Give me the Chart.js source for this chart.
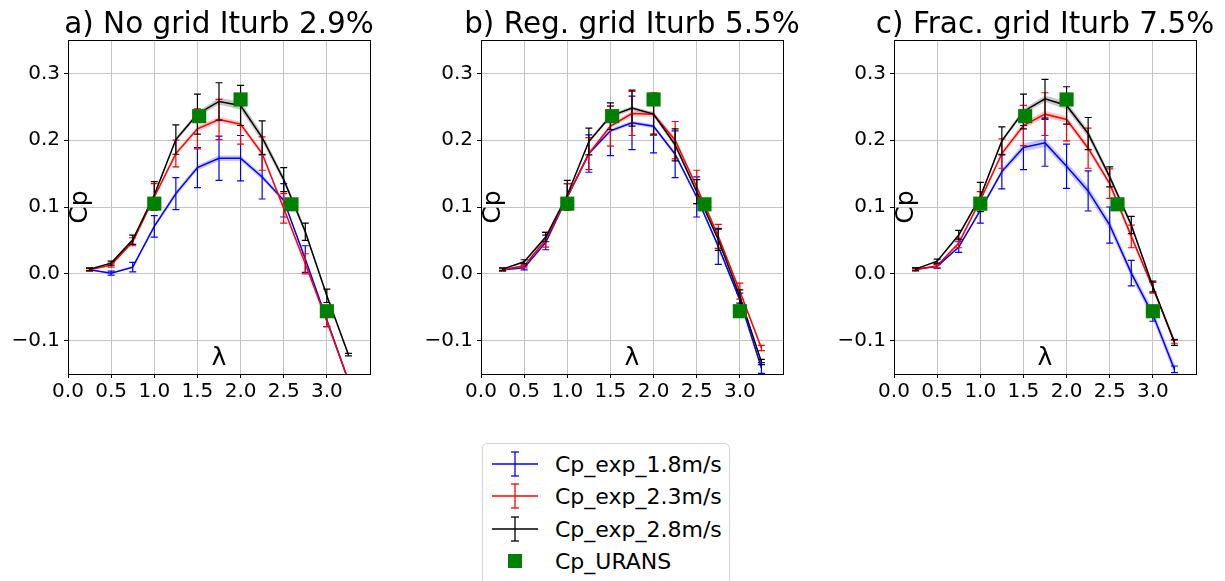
<!DOCTYPE html>
<html lang="en">
<head>
<meta charset="UTF-8">
<title>Cp vs lambda</title>
<script src="https://cdn.jsdelivr.net/npm/chart.js"></script>
<style>
  body { margin: 0; width: 1225px; height: 581px; overflow: hidden; background: #fff; font-family: "DejaVu Sans", sans-serif; }
  canvas { position: absolute; top: 0; }
  #legend { position: absolute; left: 482px; top: 443px; width: 246px; height: 150px; border: 1px solid #d6d6d6; border-radius: 5px; background: #fff; }
  .row { position: absolute; left: 0; height: 32px; display: flex; align-items: center; font-size: 22px; color: #000; }
  .row svg { margin-left: 8px; margin-right: 16px; }
</style>
</head>
<body>
<canvas id="chartA" width="400" height="420" style="left:0px"></canvas>
<canvas id="chartB" width="400" height="420" style="left:413px"></canvas>
<canvas id="chartC" width="399" height="420" style="left:826px"></canvas>

<div id="legend">
  <div class="row" style="top:4px"><svg width="48" height="30"><line x1="1" y1="15" x2="47" y2="15" stroke="#0000ff" stroke-width="1.5"/><line x1="24" y1="3" x2="24" y2="27" stroke="#0000ff" stroke-width="1.3"/><line x1="20" y1="3" x2="28" y2="3" stroke="#0000ff" stroke-width="1.3"/><line x1="20" y1="27" x2="28" y2="27" stroke="#0000ff" stroke-width="1.3"/></svg>Cp_exp_1.8m/s</div>
  <div class="row" style="top:36px"><svg width="48" height="30"><line x1="1" y1="15" x2="47" y2="15" stroke="#ff0000" stroke-width="1.5"/><line x1="24" y1="3" x2="24" y2="27" stroke="#ff0000" stroke-width="1.3"/><line x1="20" y1="3" x2="28" y2="3" stroke="#ff0000" stroke-width="1.3"/><line x1="20" y1="27" x2="28" y2="27" stroke="#ff0000" stroke-width="1.3"/></svg>Cp_exp_2.3m/s</div>
  <div class="row" style="top:69px"><svg width="48" height="30"><line x1="1" y1="15" x2="47" y2="15" stroke="#000" stroke-width="1.5"/><line x1="24" y1="3" x2="24" y2="27" stroke="#000" stroke-width="1.3"/><line x1="20" y1="3" x2="28" y2="3" stroke="#000" stroke-width="1.3"/><line x1="20" y1="27" x2="28" y2="27" stroke="#000" stroke-width="1.3"/></svg>Cp_exp_2.8m/s</div>
  <div class="row" style="top:101px"><svg width="48" height="30"><rect x="17" y="8" width="14" height="14" fill="#008000"/></svg>Cp_URANS</div>
</div>

<script>
// tip speed ratio positions of the measurements
const lambdas = [0.25, 0.5, 0.75, 1.0, 1.25, 1.5, 1.75, 2.0, 2.25, 2.5, 2.75, 3.0, 3.25];

// URANS points (same in all three panels)
const uransLambda = [1.0, 1.52, 2.0, 2.59, 3.0];
const uransCp = [0.105, 0.236, 0.261, 0.104, -0.056];

// a) no grid
const aBlue = [0.006, 0.001, 0.010, 0.071, 0.120, 0.159, 0.173, 0.173, 0.145, 0.110, 0.022, -0.069, -0.160];
const aBlueErr = [0.002, 0.003, 0.007, 0.016, 0.024, 0.030, 0.033, 0.034, 0.033, 0.025, 0.020, 0.010, 0.005];
const aBlueBand = [0.001, 0.001, 0.002, 0.003, 0.004, 0.004, 0.004, 0.004, 0.004, 0.003, 0.003, 0.003, 0.003];
const aRed = [0.006, 0.013, 0.048, 0.115, 0.180, 0.217, 0.231, 0.224, 0.180, 0.098, 0.015, -0.071, -0.160];
const aRedErr = [0.002, 0.003, 0.006, 0.020, 0.020, 0.030, 0.030, 0.030, 0.025, 0.022, 0.015, 0.008, 0.004];
const aRedBand = [0.001, 0.001, 0.002, 0.003, 0.003, 0.004, 0.004, 0.004, 0.004, 0.003, 0.003, 0.003, 0.003];
const aBlack = [0.007, 0.016, 0.051, 0.118, 0.201, 0.239, 0.258, 0.252, 0.204, 0.141, 0.063, -0.033, -0.121];
const aBlackErr = [0.002, 0.003, 0.007, 0.020, 0.022, 0.030, 0.028, 0.030, 0.025, 0.018, 0.013, 0.010, 0.002];
const aBlackBand = [0.001, 0.001, 0.002, 0.003, 0.003, 0.004, 0.005, 0.006, 0.006, 0.005, 0.004, 0.003, 0.002];

// b) regular grid
const bBlue = [0.006, 0.009, 0.047, 0.115, 0.180, 0.214, 0.226, 0.221, 0.179, 0.115, 0.041, -0.039, -0.141];
const bBlueErr = [0.002, 0.003, 0.011, 0.020, 0.028, 0.037, 0.040, 0.040, 0.035, 0.030, 0.027, 0.010, 0.008];
const bBlueBand = [0.001, 0.001, 0.002, 0.003, 0.003, 0.003, 0.003, 0.003, 0.003, 0.003, 0.003, 0.003, 0.003];
const bRed = [0.006, 0.012, 0.051, 0.115, 0.180, 0.221, 0.240, 0.239, 0.200, 0.130, 0.056, -0.026, -0.111];
const bRedErr = [0.002, 0.003, 0.011, 0.020, 0.024, 0.030, 0.033, 0.032, 0.028, 0.025, 0.018, 0.012, 0.004];
const bRedBand = [0.001, 0.001, 0.002, 0.003, 0.003, 0.003, 0.004, 0.004, 0.004, 0.004, 0.004, 0.003, 0.003];
const bBlack = [0.007, 0.018, 0.055, 0.118, 0.198, 0.236, 0.248, 0.239, 0.193, 0.123, 0.051, -0.034, -0.132];
const bBlackErr = [0.002, 0.003, 0.007, 0.022, 0.020, 0.020, 0.027, 0.030, 0.024, 0.018, 0.016, 0.010, 0.004];
const bBlackBand = [0.001, 0.001, 0.002, 0.002, 0.003, 0.003, 0.003, 0.003, 0.004, 0.003, 0.003, 0.003, 0.002];

// c) fractal grid
const cBlue = [0.007, 0.011, 0.040, 0.095, 0.153, 0.189, 0.196, 0.161, 0.124, 0.073, 0.001, -0.061, -0.143];
const cBlueErr = [0.002, 0.003, 0.008, 0.019, 0.026, 0.033, 0.035, 0.033, 0.030, 0.027, 0.019, 0.010, 0.005];
const cBlueBand = [0.001, 0.001, 0.002, 0.003, 0.004, 0.006, 0.006, 0.006, 0.007, 0.007, 0.007, 0.007, 0.008];
const cRed = [0.006, 0.012, 0.046, 0.110, 0.180, 0.222, 0.239, 0.231, 0.188, 0.135, 0.056, -0.021, -0.101];
const cRedErr = [0.002, 0.003, 0.007, 0.013, 0.022, 0.030, 0.032, 0.032, 0.030, 0.022, 0.017, 0.008, 0.003];
const cRedBand = [0.001, 0.001, 0.002, 0.003, 0.004, 0.005, 0.005, 0.005, 0.005, 0.005, 0.005, 0.004, 0.004];
const cBlack = [0.007, 0.019, 0.058, 0.115, 0.199, 0.243, 0.262, 0.252, 0.210, 0.145, 0.073, -0.019, -0.103];
const cBlackErr = [0.002, 0.003, 0.007, 0.022, 0.021, 0.026, 0.029, 0.028, 0.024, 0.015, 0.013, 0.008, 0.004];
const cBlackBand = [0.001, 0.001, 0.002, 0.003, 0.003, 0.004, 0.005, 0.006, 0.006, 0.005, 0.004, 0.003, 0.002];

// axis ticks
const xTicks = [0.0, 0.5, 1.0, 1.5, 2.0, 2.5, 3.0];
const yTicks = [-0.1, 0.0, 0.1, 0.2, 0.3];

const FONT = '"DejaVu Sans", sans-serif';

function pts(xs, ys) {
    return xs.map((x, i) => ({ x: x, y: ys[i] }));
}

// error bars drawn right after each line dataset
const errorBars = {
    id: 'errorBars',
    afterDatasetDraw(chart, args) {
        const ds = chart.data.datasets[args.index];
        if (!ds.errs) return;
        const ctx = chart.ctx, a = chart.chartArea;
        const xs = chart.scales.x, ys = chart.scales.y;
        ctx.save();
        ctx.beginPath();
        ctx.rect(a.left, a.top, a.right - a.left, a.bottom - a.top);
        ctx.clip();
        ctx.strokeStyle = ds.borderColor;
        ctx.lineWidth = 1.2;
        ds.data.forEach((p, i) => {
            const px = xs.getPixelForValue(p.x);
            const y1 = ys.getPixelForValue(p.y + ds.errs[i]);
            const y2 = ys.getPixelForValue(p.y - ds.errs[i]);
            ctx.beginPath();
            ctx.moveTo(px, y1); ctx.lineTo(px, y2);
            ctx.moveTo(px - 3.5, y1); ctx.lineTo(px + 3.5, y1);
            ctx.moveTo(px - 3.5, y2); ctx.lineTo(px + 3.5, y2);
            ctx.stroke();
        });
        ctx.restore();
    }
};

// frame, title and axis labels
const decorations = {
    id: 'decorations',
    afterDraw(chart) {
        const ctx = chart.ctx, a = chart.chartArea;
        const o = chart.options.plugins.decorations;
        ctx.save();
        ctx.strokeStyle = '#000';
        ctx.lineWidth = 1;
        ctx.strokeRect(Math.round(a.left) + 0.5, Math.round(a.top) + 0.5, Math.round(a.right - a.left), Math.round(a.bottom - a.top));
        ctx.fillStyle = '#000';
        ctx.textAlign = 'center';
        ctx.textBaseline = 'alphabetic';
        ctx.font = '29.5px ' + FONT;
        ctx.fillText(o.title, (a.left + a.right) / 2, 33);
        ctx.textBaseline = 'middle';
        ctx.font = '25px ' + FONT;
        ctx.fillText('λ', (a.left + a.right) / 2, a.bottom - 16);
        ctx.translate(a.left + 12, a.top + 167);
        ctx.rotate(-Math.PI / 2);
        ctx.fillText('Cp', 0, 0);
        ctx.restore();
    }
};

function bandSets(vals, band, color, order) {
    return [
        { data: pts(lambdas, vals.map((v, i) => v + band[i])), borderWidth: 0, pointRadius: 0, fill: '+1', backgroundColor: color, order: order },
        { data: pts(lambdas, vals.map((v, i) => v - band[i])), borderWidth: 0, pointRadius: 0, fill: false, order: order }
    ];
}

function makeChart(id, title, rightPad, blue, blueErr, blueBand, red, redErr, redBand, black, blackErr, blackBand) {
    const datasets = [
        { label: 'Cp_URANS', data: pts(uransLambda, uransCp), showLine: false, pointStyle: 'rect', pointRadius: 10, backgroundColor: '#008000', borderWidth: 0, order: 0 },
        { label: 'Cp_exp_2.8m/s', data: pts(lambdas, black), errs: blackErr, borderColor: '#000000', borderWidth: 1.5, pointRadius: 0, order: 1 },
        { label: 'Cp_exp_2.3m/s', data: pts(lambdas, red), errs: redErr, borderColor: '#ff0000', borderWidth: 1.5, pointRadius: 0, order: 2 },
        { label: 'Cp_exp_1.8m/s', data: pts(lambdas, blue), errs: blueErr, borderColor: '#0000ff', borderWidth: 1.5, pointRadius: 0, order: 3 }
    ].concat(
        bandSets(black, blackBand, 'rgba(0,0,0,0.22)', 4),
        bandSets(red, redBand, 'rgba(255,0,0,0.22)', 5),
        bandSets(blue, blueBand, 'rgba(0,0,255,0.22)', 6)
    );

    const tickFont = { family: FONT, size: 20 };
    return new Chart(document.getElementById(id), {
        type: 'line',
        data: { datasets: datasets },
        options: {
            responsive: false,
            animation: false,
            layout: { padding: { top: 40, right: rightPad, left: 0, bottom: 0 } },
            plugins: { legend: { display: false }, tooltip: { enabled: false }, decorations: { title: title } },
            scales: {
                x: {
                    type: 'linear', min: 0, max: 3.5,
                    afterBuildTicks: s => { s.ticks = xTicks.map(v => ({ value: v })); },
                    afterFit: s => { s.height = 46; },
                    ticks: { color: '#000', font: tickFont, padding: 2, maxRotation: 0, callback: v => v.toFixed(1) },
                    grid: { color: '#c4c4c4', lineWidth: 1, tickColor: '#000', tickLength: 4 },
                    border: { color: '#000', width: 1 }
                },
                y: {
                    type: 'linear', min: -0.15, max: 0.35,
                    afterBuildTicks: s => { s.ticks = yTicks.map(v => ({ value: v })); },
                    afterFit: s => { s.width = 68; },
                    ticks: { color: '#000', font: tickFont, padding: 4, callback: v => (Math.abs(v) < 1e-9 ? '0.0' : v.toFixed(1).replace('-', '\u2212')) },
                    grid: { color: '#c4c4c4', lineWidth: 1, tickColor: '#000', tickLength: 4 },
                    border: { color: '#000', width: 1 }
                }
            }
        },
        plugins: [errorBars, decorations]
    });
}

makeChart('chartA', 'a) No grid Iturb 2.9%', 30, aBlue, aBlueErr, aBlueBand, aRed, aRedErr, aRedBand, aBlack, aBlackErr, aBlackBand);
makeChart('chartB', 'b) Reg. grid Iturb 5.5%', 30, bBlue, bBlueErr, bBlueBand, bRed, bRedErr, bRedBand, bBlack, bBlackErr, bBlackBand);
makeChart('chartC', 'c) Frac. grid Iturb 7.5%', 29, cBlue, cBlueErr, cBlueBand, cRed, cRedErr, cRedBand, cBlack, cBlackErr, cBlackBand);
</script>
</body>
</html>
